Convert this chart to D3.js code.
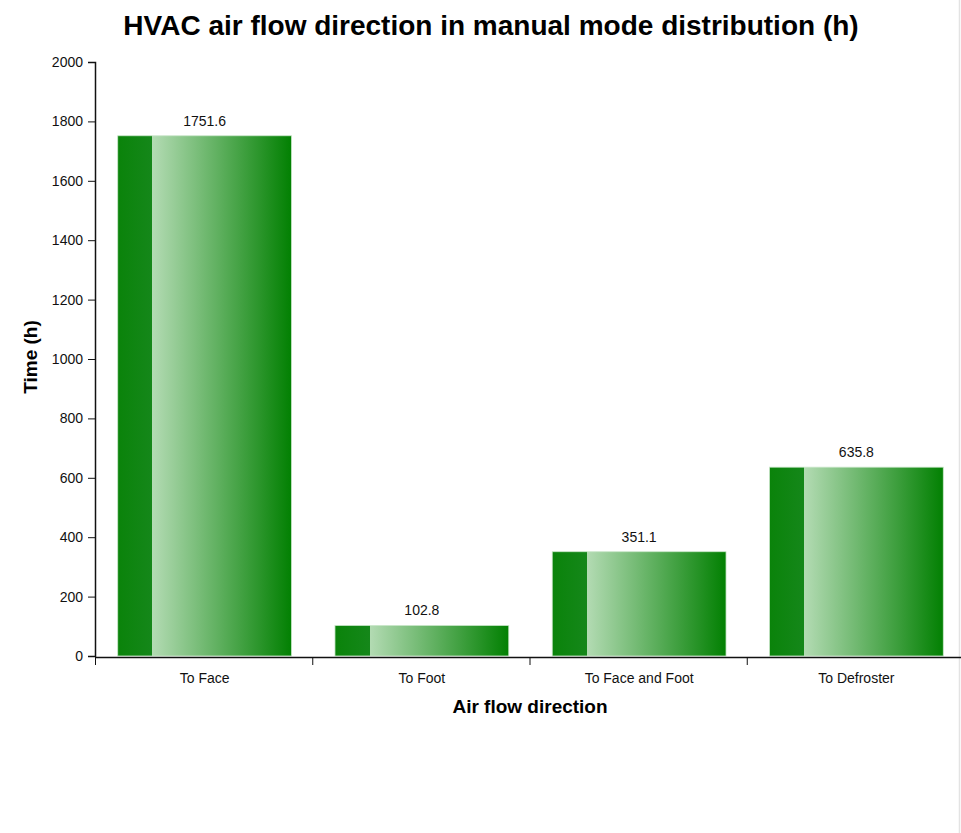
<!DOCTYPE html>
<html>
<head>
<meta charset="utf-8">
<script src="https://cdn.jsdelivr.net/npm/d3@7"></script>
<style>
  html, body { margin: 0; padding: 0; background: #fff; }
  svg { display: block; font-family: "Liberation Sans", Arial, sans-serif; }
</style>
</head>
<body>
<svg id="chart" width="961" height="833"></svg>
<script>
// Hours spent per air flow direction while the HVAC runs in manual mode
const categories = ["To Face", "To Foot", "To Face and Foot", "To Defroster"];
const hours = [1751.6, 102.8, 351.1, 635.8];
const yTicks = [0, 200, 400, 600, 800, 1000, 1200, 1400, 1600, 1800, 2000];

const svg = d3.select("#chart");
const margin = { top: 62, left: 95, bottom: 177 };
const plotW = 869;
const plotH = 833 - margin.top - margin.bottom;

// right page edge
svg.append("line")
  .attr("x1", 959.5).attr("x2", 959.5).attr("y1", 0).attr("y2", 833)
  .attr("stroke", "#e3e3e3").attr("stroke-width", 1.5);

const defs = svg.append("defs");
const grad = defs.append("linearGradient").attr("id", "barFill")
  .attr("x1", "0%").attr("x2", "100%").attr("y1", "0%").attr("y2", "0%");
[["0%", "#0a830a"], ["20%", "#15871a"], ["20%", "#b3dbb3"], ["100%", "#028002"]]
  .forEach(([o, c]) => grad.append("stop").attr("offset", o).attr("stop-color", c));

const g = svg.append("g").attr("transform", `translate(${margin.left},${margin.top})`);

const x = d3.scaleBand().domain(categories).range([1, plotW + 1]).paddingInner(0.2).paddingOuter(0.1);
const y = d3.scaleLinear().domain([0, 2000]).range([plotH, 0]);

// bars
g.selectAll("rect.bar").data(categories).join("rect")
  .attr("class", "bar")
  .attr("x", d => x(d))
  .attr("width", x.bandwidth())
  .attr("y", (d, i) => y(hours[i]))
  .attr("height", (d, i) => plotH - y(hours[i]))
  .attr("fill", "url(#barFill)")
  .attr("stroke", "#c9e6c9").attr("stroke-width", 0.8);

// value labels
g.selectAll("text.val").data(categories).join("text")
  .attr("class", "val")
  .attr("x", d => x(d) + x.bandwidth() / 2)
  .attr("y", (d, i) => y(hours[i]) - 10)
  .attr("text-anchor", "middle")
  .attr("font-size", 14).attr("fill", "#111")
  .text((d, i) => hours[i].toFixed(1));

// y axis
const yAxis = g.append("g").call(d3.axisLeft(y).tickValues(yTicks).tickFormat(d3.format("d")).tickSize(7).tickPadding(5));
yAxis.selectAll("text").attr("font-size", 14).attr("fill", "#111");
yAxis.select(".domain").attr("stroke", "#111").attr("stroke-width", 1.5);
yAxis.selectAll(".tick line").attr("stroke", "#111");

// x axis: ticks at band boundaries, labels at band centres
const xb = d3.scaleLinear().domain([0, categories.length]).range([0, plotW]);
const xAxis = g.append("g").attr("transform", `translate(0,${plotH + 1})`)
  .call(d3.axisBottom(xb).ticks(categories.length).tickFormat("").tickSize(8).tickSizeOuter(0));
xAxis.select(".domain").attr("stroke", "#111").attr("stroke-width", 1.5);
xAxis.selectAll(".tick line").attr("stroke", "#111");
g.selectAll("text.xl").data(categories).join("text")
  .attr("class", "xl")
  .attr("x", d => x(d) + x.bandwidth() / 2)
  .attr("y", plotH + 27)
  .attr("text-anchor", "middle")
  .attr("font-size", 14).attr("fill", "#111")
  .text(d => d);

// titles
svg.append("text")
  .attr("x", 491).attr("y", 35)
  .attr("text-anchor", "middle")
  .attr("font-size", 28).attr("font-weight", "bold").attr("fill", "#000")
  .text("HVAC air flow direction in manual mode distribution (h)");

svg.append("text")
  .attr("x", 530).attr("y", 713)
  .attr("text-anchor", "middle")
  .attr("font-size", 19).attr("font-weight", "bold").attr("fill", "#000")
  .text("Air flow direction");

svg.append("text")
  .attr("transform", `translate(37,357) rotate(-90)`)
  .attr("text-anchor", "middle")
  .attr("font-size", 19).attr("font-weight", "bold").attr("fill", "#000")
  .text("Time (h)");
</script>
</body>
</html>
